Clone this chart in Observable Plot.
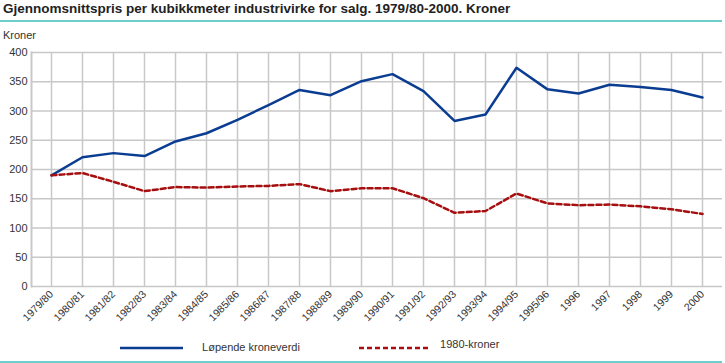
<!DOCTYPE html>
<html>
<head>
<meta charset="utf-8">
<script src="https://cdn.jsdelivr.net/npm/d3@7"></script>
<script src="https://cdn.jsdelivr.net/npm/@observablehq/plot@0.6"></script>
<style>
  body { margin: 0; background: #fff; font-family: "Liberation Sans", Arial, sans-serif; }
  #wrap { position: relative; width: 725px; height: 363px; overflow: hidden; }
  #title { position: absolute; left: 3px; top: 1px; font-weight: bold; font-size: 13.5px; color: #222; white-space: nowrap; }
  .teal { position: absolute; left: 0; width: 722px; height: 2px; background: #6ccfcb; }
  #unit { position: absolute; left: 3px; top: 29px; font-size: 11px; color: #333; }
  #chart { position: absolute; left: 0; top: 0; }
  .leg { position: absolute; font-size: 11px; color: #333; white-space: nowrap; }
</style>
</head>
<body>
<div id="wrap">
  <div id="chart"></div>
  <div id="title">Gjennomsnittspris per kubikkmeter industrivirke for salg. 1979/80-2000. Kroner</div>
  <div class="teal" style="top:20px"></div>
  <div id="unit">Kroner</div>
  <div class="leg" style="left:120px; top:341px;">
    <svg width="64" height="14" style="vertical-align:middle"><line x1="0" x2="63" y1="7" y2="7" stroke="#0a3d91" stroke-width="2.5"/></svg>
    <span style="margin-left:15px">Løpende kroneverdi</span>
  </div>
  <div class="leg" style="left:359px; top:338px;">
    <svg width="70" height="14" style="vertical-align:middle"><line x1="0" x2="70" y1="10" y2="10" stroke="#a50f0f" stroke-width="2.5" stroke-dasharray="5,3"/></svg>
    <span style="margin-left:8px">1980-kroner</span>
  </div>
  <div class="teal" style="top:361px"></div>
</div>
<script>
const categories = ["1979/80","1980/81","1981/82","1982/83","1983/84","1984/85","1985/86","1986/87","1987/88","1988/89","1989/90","1990/91","1991/92","1992/93","1993/94","1994/95","1995/96","1996","1997","1998","1999","2000"];
const lopende = [190, 221, 228, 223, 248, 262, 285, 310, 336, 327, 351, 363, 334, 283, 294, 374, 337, 330, 345, 341, 336, 323];
const kroner1980 = [190, 194, 179, 163, 170, 169, 171, 172, 175, 163, 168, 168, 151, 126, 129, 159, 142, 139, 140, 137, 132, 124];
const yTicks = [0, 50, 100, 150, 200, 250, 300, 350, 400];

const rows = categories.map((c, i) => ({cat: c, a: lopende[i], b: kroner1980[i]}));
const grid = "#c8c8c8";

const chart = Plot.plot({
  width: 725,
  height: 363,
  marginTop: 52,
  marginBottom: 77,
  marginLeft: 31,
  marginRight: 3,
  style: {fontFamily: "Liberation Sans, Arial, sans-serif", fontSize: "11px", color: "#333", background: "transparent"},
  x: {type: "point", domain: categories, padding: 0.5, label: null},
  y: {domain: [0, 400], label: null},
  marks: [
    Plot.gridY(yTicks, {stroke: grid, strokeOpacity: 1, strokeWidth: 1.5}),
    Plot.gridX(categories, {stroke: grid, strokeOpacity: 1, strokeWidth: 1.5}),
    Plot.frame({anchor: "left", stroke: grid, strokeWidth: 2}),
    Plot.axisY(yTicks, {tickSize: 0, tickPadding: 4, fontSize: 11}),
    Plot.axisX(categories, {tickSize: 0, tickRotate: -45, tickPadding: 6, textAnchor: "end", fontSize: 10.5}),
    Plot.lineY(rows, {x: "cat", y: "a", stroke: "#0a3d91", strokeWidth: 2.5}),
    Plot.lineY(rows, {x: "cat", y: "b", stroke: "#a50f0f", strokeWidth: 2.5, strokeDasharray: "5,3"})
  ]
});
document.getElementById("chart").appendChild(chart);
</script>
</body>
</html>
